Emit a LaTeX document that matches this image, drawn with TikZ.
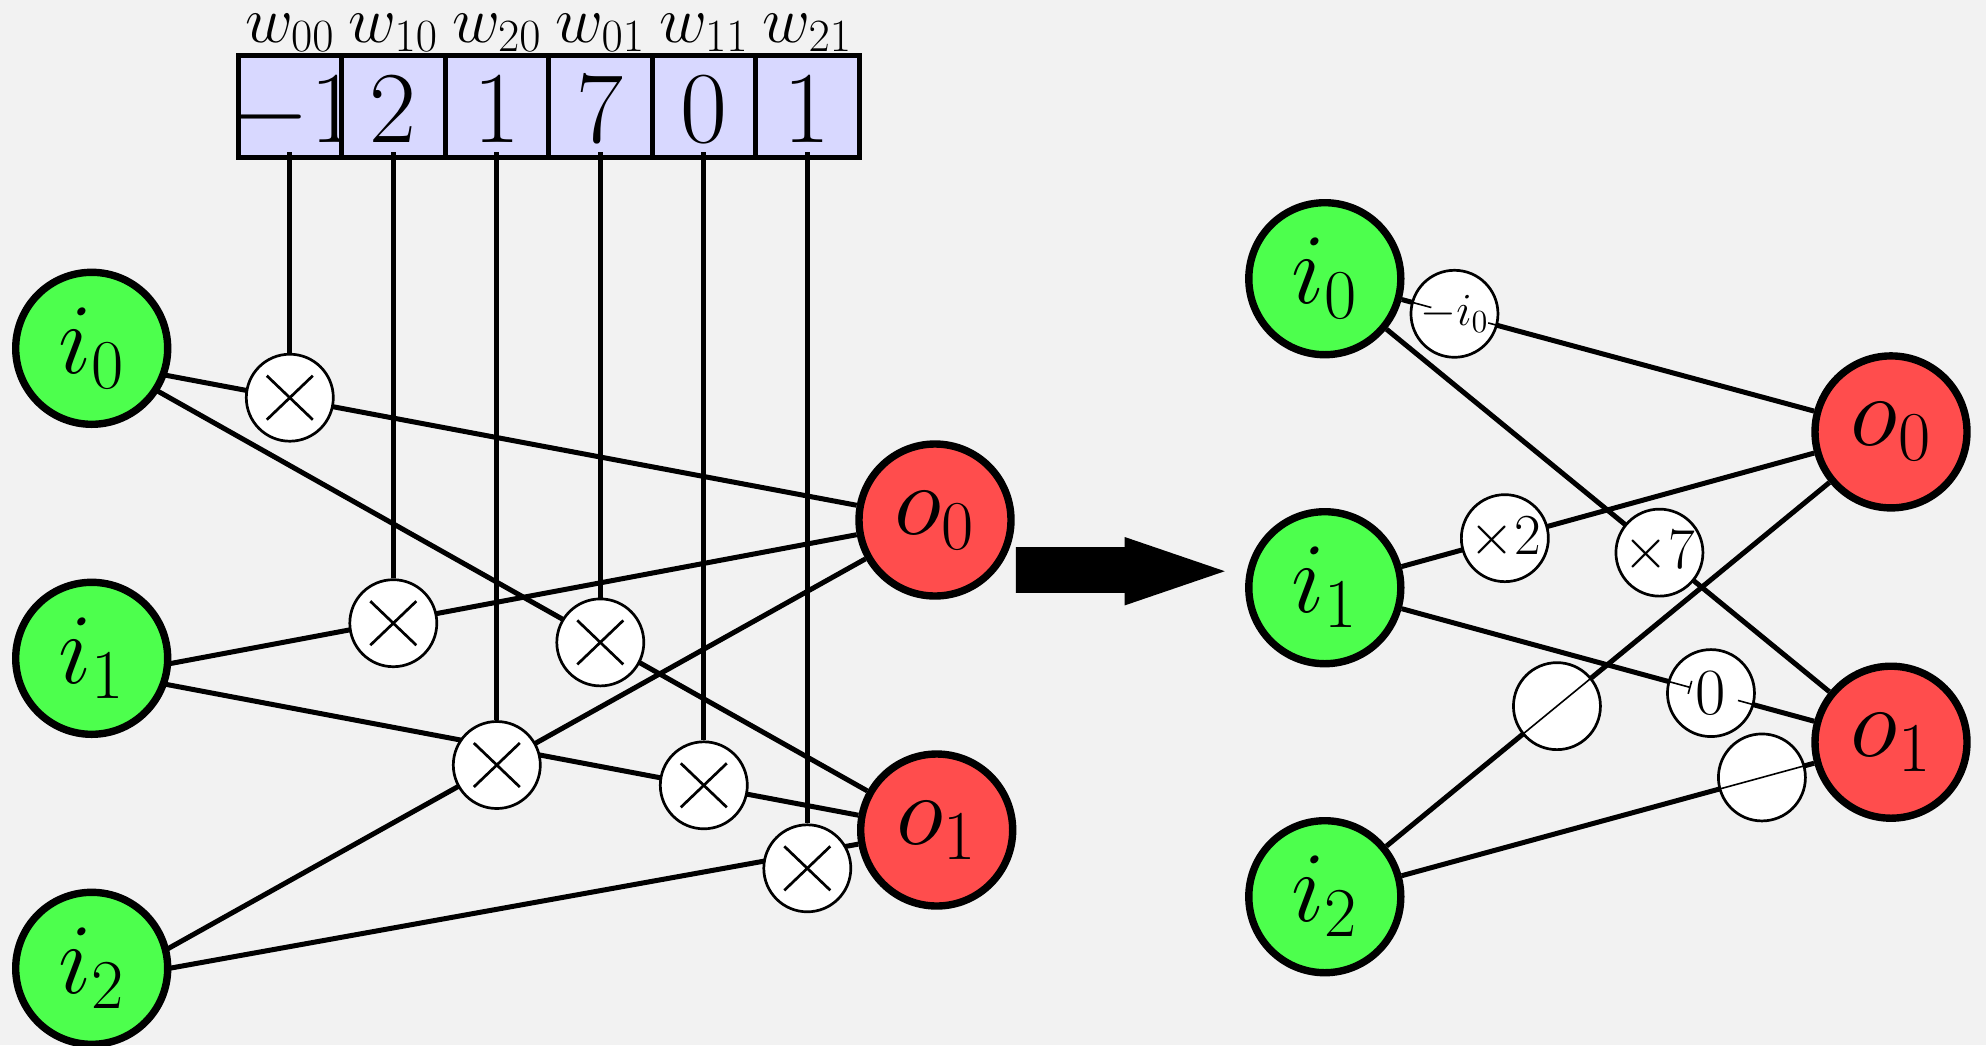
\RequirePackage{fix-cm}
\documentclass[tikz,border=0pt]{standalone}
\usetikzlibrary{calc,arrows.meta}

\definecolor{paper}{RGB}{242,242,242}
\definecolor{ingreen}{RGB}{77,255,77}
\definecolor{outred}{RGB}{255,77,77}
\definecolor{cellblue}{RGB}{216,216,255}

\pgfdeclarelayer{bg}
\pgfdeclarelayer{wires}
\pgfsetlayers{bg,wires,main}

\tikzset{
  neuron/.style={circle, draw=black, line width=3.7pt, minimum size=76pt,
    inner sep=0pt, font=\fontsize{50}{60}\selectfont},
  innode/.style={neuron, fill=ingreen},
  outnode/.style={neuron, fill=outred},
  gate/.style={circle, draw=black, fill=white, line width=1.35pt,
    minimum size=43.5pt, inner sep=0pt},
  mulgate/.style={gate, path picture={
    \draw[line width=1.35pt]
      ([shift={(-11.5pt,-11pt)}]path picture bounding box.center) --
      ([shift={(11.5pt,11pt)}]path picture bounding box.center)
      ([shift={(-11.5pt,11pt)}]path picture bounding box.center) --
      ([shift={(11.5pt,-11pt)}]path picture bounding box.center);}},
  wire/.style={line width=2.5pt},
  hair/.style={line width=0.8pt},
  cellbox/.style={rectangle, draw=black, fill=cellblue, line width=2.5pt,
    minimum width=51.75pt, minimum height=50.6pt, inner sep=0pt},
  digit/.style={inner sep=0pt, anchor=base, font=\fontsize{51}{61}\selectfont},
  wname/.style={inner sep=0pt, anchor=base, font=\fontsize{33}{40}\selectfont},
}

\begin{document}
\begin{tikzpicture}[x=0.5pt,y=-0.5pt]
\useasboundingbox (0,0) rectangle (1986,1045);

\begin{pgfonlayer}{bg}
  \fill[paper] (0,0) rectangle (1986,1045);
  % weight table: each cell is drawn before its value so the next cell
  % covers any overflow
  \foreach \k/\v/\lab/\dx in {0/-1/{00}/4,1/2/{10}/0,2/1/{20}/0,3/7/{01}/0,4/0/{11}/0,5/1/{21}/0}{
    \node[cellbox] (cell\k) at ({289.8+103.5*\k},106.5) {};
    \node[digit] (val\k) at ({289.8+103.5*\k+\dx},142.5) {$\v$};
    \node[wname] (name\k) at ({289.8+103.5*\k},42) {$w_{\lab}$};
  }
\end{pgfonlayer}

% ---------- left network ----------
\node[innode]  (i0) at (91.7,348.3) {$i_0$};
\node[innode]  (i1) at (91.7,658.3) {$i_1$};
\node[innode]  (i2) at (91.7,968.3) {$i_2$};
\node[outnode] (o0) at (935,520) {$o_0$};
\node[outnode] (o1) at (936.7,830) {$o_1$};

\node[mulgate] (m00) at (289.8,397.7) {};
\node[mulgate] (m10) at (393.3,623.2) {};
\node[mulgate] (m20) at (496.8,765.0) {};
\node[mulgate] (m01) at (600.3,642.4) {};
\node[mulgate] (m11) at (703.8,785.3) {};
\node[mulgate] (m21) at (807.3,868.3) {};

\begin{pgfonlayer}{wires}
  \draw[wire] ([yshift=-6.5pt]i0.center)  -- (o0);
  \draw[wire] ([yshift=-2.8pt]i0.center)  -- (o1);
  \draw[wire] ([yshift=-10pt]i1.center)   -- (o0);
  \draw[wire] ([yshift=-6pt]i1.center)    -- (o1);
  \draw[wire] ([yshift=-11.5pt]i2.center) -- (o0);
  \draw[wire] ([yshift=-7pt]i2.center)    -- (o1);
  \foreach \k/\m in {0/m00,1/m10,2/m20,3/m01,4/m11,5/m21}
    \draw[wire] ([yshift=3.75pt]cell\k.south) -- (\m);
\end{pgfonlayer}

% ---------- block arrow ----------
\fill[black] (1015.8,547.2) -- (1124.7,547.2) -- (1124.7,537) -- (1224.8,571.2)
  -- (1124.7,605.4) -- (1124.7,592.8) -- (1015.8,592.8) -- cycle;

% ---------- right network ----------
\node[innode]  (I0) at (1324.8,278.7) {$i_0$};
\node[innode]  (I1) at (1324.8,587.7) {$i_1$};
\node[innode]  (I2) at (1324.8,896.7) {$i_2$};
\node[outnode] (O0) at (1891,431.9) {$o_0$};
\node[outnode] (O1) at (1891,742.2) {$o_1$};

\begin{pgfonlayer}{wires}
  \draw[wire] (I0) -- (O0);
  \draw[wire] (I1) -- (O0);
  \draw[wire] (I2) -- (O0);
  \draw[wire] (I0) -- (O1);
  \draw[wire] (I1) -- (O1);
  \draw[wire] (I2) -- (O1);
\end{pgfonlayer}

\node[gate, font=\fontsize{23}{28}\selectfont] (c00) at ($(I0)!0.229!(O0)$) {$-i_0$};
\node[gate, font=\fontsize{29}{34}\selectfont] (c10) at ($(I1)!0.318!(O0)$) {$\times2$};
\node[gate] (c20) at ($(I2)!0.410!(O0)$) {};
\node[gate, font=\fontsize{29}{34}\selectfont] (c01) at ($(I0)!0.591!(O1)$) {$\times7$};
\node[gate, font=\fontsize{33}{38}\selectfont] (c11) at ($(I1)!0.682!(O1)$) {$0$};
\node[gate] (c21) at ($(I2)!0.772!(O1)$) {};

% thin wire pieces running over the gates
\draw[hair] ($(c00)!21.8pt!(I0)$) -- ($(c00)!12pt!(I0)$);
\draw[hair] ($(c00)!17.5pt!(O0)$) -- ($(c00)!21.8pt!(O0)$);
\draw[hair, -{Bar[width=6.7pt]}] ($(c11)!21.8pt!(I1)$) -- ($(c11)!10.5pt!(I1)$);
\draw[hair] ($(c11)!14pt!(O1)$) -- ($(c11)!21.8pt!(O1)$);
\draw[hair] ($(c20)!21.8pt!(I2)$) -- ($(c20)!21.8pt!(O0)$);
\draw[hair] ($(c21)!21.8pt!(I2)$) -- ($(c21)!21.8pt!(O1)$);
\end{tikzpicture}
\end{document}
